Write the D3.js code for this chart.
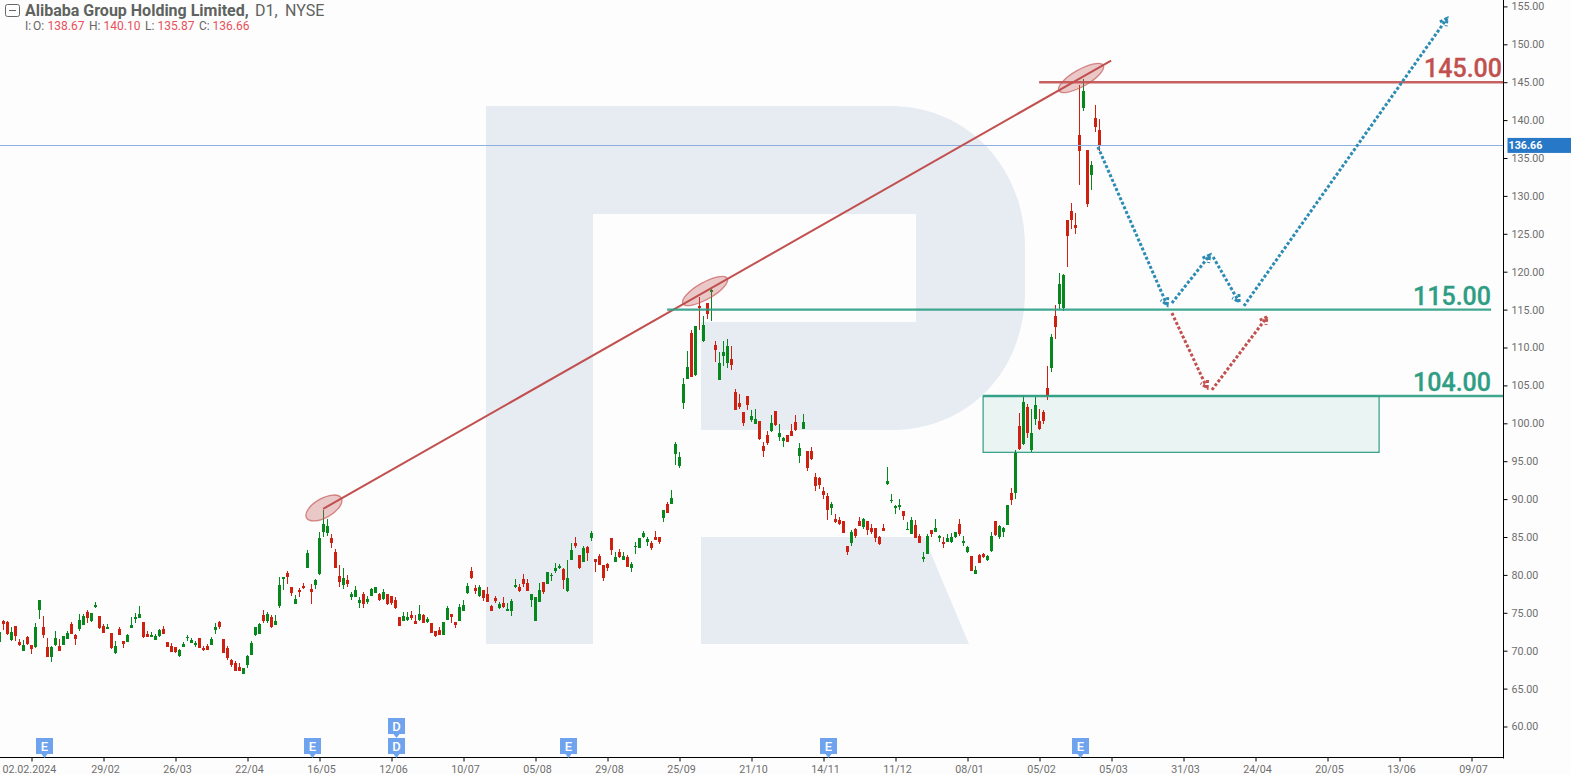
<!DOCTYPE html>
<html><head><meta charset="utf-8">
<script src="https://cdn.jsdelivr.net/npm/d3@7"></script>
<style>
html,body{margin:0;padding:0;background:#fdfdfd;overflow:hidden}
svg{display:block;font-family:Roboto,sans-serif}
</style></head><body><div id="chart"></div>
<script>
const firstBar = -1;
const opens = [71.15,
73.92,73.79,71.42,73.26,71.15,69.97,71.81,70.76,70.49,75.37,
73.13,70.49,69.17,70.76,70.62,70.76,71.55,73.53,72.08,72.87,
73.40,75.11,73.92,75.77,74.58,73.26,72.87,72.34,69.70,72.87,
71.28,71.15,73.00,74.19,74.32,73.79,72.21,71.81,71.42,71.94,
72.87,71.15,70.62,70.49,69.31,70.49,71.68,71.02,70.76,71.68,
70.36,70.62,70.76,72.74,73.79,71.55,70.36,68.78,68.38,67.85,
66.93,68.12,69.44,72.08,72.21,74.71,73.92,74.45,73.40,75.90,
79.46,80.26,78.41,76.17,78.01,78.54,80.91,78.14,78.67,80.12,
85.66,85.53,84.87,83.03,79.86,78.67,79.33,77.09,77.09,76.30,
77.48,76.43,77.22,77.62,77.48,76.83,77.48,77.22,76.69,74.45,
73.92,74.05,74.71,73.92,74.05,74.71,73.79,73.66,72.60,72.74,
72.08,74.05,74.85,73.79,73.92,75.24,77.62,80.52,78.28,77.22,
78.01,77.48,75.90,76.96,75.64,76.30,75.24,75.24,78.41,78.41,
79.46,78.94,76.69,73.92,76.43,79.07,78.80,79.90,80.52,80.91,
80.78,77.88,81.97,84.21,82.63,81.71,83.68,84.87,82.10,82.50,
81.31,81.44,84.87,81.71,83.03,81.97,82.37,80.91,83.68,83.55,
85.00,84.34,84.21,85.00,85.00,87.51,89.36,89.36,95.95,94.37,
102.68,105.85,111.92,106.38,115.48,110.86,115.87,117.33,110.33,105.72,
108.88,107.96,108.49,104.13,102.68,101.49,103.61,100.44,99.91,100.31,
97.01,98.46,98.99,101.63,98.20,97.67,98.46,98.99,100.18,95.69,
99.25,96.35,96.35,92.92,92.79,91.07,90.41,88.83,87.38,87.25,
87.11,83.82,84.21,86.06,87.11,86.32,87.11,86.19,86.19,85.00,
86.19,91.99,89.75,88.83,88.96,88.43,85.93,85.40,86.59,85.14,
82.10,82.76,85.93,85.66,84.87,84.34,84.34,84.34,85.00,86.72,
84.21,83.03,82.50,80.12,82.63,82.76,81.97,83.16,87.11,85.00,
85.66,86.59,90.81,90.81,99.65,97.27,102.15,96.48,100.57,100.31,
101.49,104.66,107.30,114.16,115.74,115.22,126.83,128.01,126.17,138.04,
141.60,136.06,132.76,140.28,138.67];
const highs = [72.47,
74.05,73.92,73.13,73.26,71.55,71.42,71.94,70.76,73.66,76.69,
74.58,71.68,70.62,72.60,71.55,71.94,72.60,73.79,72.21,74.85,
74.85,75.37,74.98,76.43,74.58,73.53,73.53,72.34,71.28,73.13,
71.28,72.21,74.45,74.98,75.90,73.79,72.60,72.47,72.21,72.87,
73.26,71.15,71.02,70.49,70.23,71.15,72.08,71.68,71.28,71.68,
70.62,70.89,71.81,73.66,73.92,71.55,70.62,68.91,68.65,68.38,
67.72,69.44,71.28,73.13,73.66,75.37,75.11,74.71,74.71,79.73,
79.73,80.52,78.41,77.35,78.28,78.94,83.29,78.80,79.46,85.66,
88.57,87.38,85.40,83.42,81.31,80.91,79.99,77.75,78.54,77.09,
77.75,77.22,78.28,78.41,77.62,78.14,77.48,77.22,77.09,74.45,
75.11,75.11,75.24,74.71,76.03,74.85,74.45,73.66,72.60,73.13,
73.79,75.90,74.85,73.79,76.17,76.69,78.94,81.05,78.67,78.67,
78.01,78.41,76.03,77.22,76.43,77.09,76.30,76.83,79.46,78.80,
80.12,79.46,77.48,77.09,78.94,79.07,80.39,80.26,81.57,81.44,
80.91,81.97,84.21,85.00,82.63,83.82,83.82,85.80,82.10,82.76,
81.31,81.57,84.87,83.03,83.42,83.03,82.63,81.71,84.34,84.87,
85.80,85.00,84.48,85.80,85.00,88.57,89.62,91.20,97.54,96.22,
105.98,109.54,112.31,112.84,116.67,114.16,115.87,117.85,110.86,109.41,
110.86,111.12,110.20,104.53,103.87,101.49,103.61,101.76,101.89,100.31,
97.54,98.99,101.10,101.63,99.91,98.20,98.46,99.91,101.10,97.40,
101.23,96.35,96.88,93.45,92.92,91.60,90.81,89.62,88.04,87.64,
87.11,83.82,85.93,86.19,87.64,87.51,87.11,86.72,86.19,85.14,
86.72,94.24,90.68,89.23,90.02,88.43,86.98,87.64,87.25,85.40,
83.03,85.40,85.93,87.38,85.27,85.00,85.40,85.53,85.66,87.38,
85.14,83.82,82.50,81.18,82.76,82.89,82.63,85.66,87.11,86.59,
86.32,89.23,91.47,96.48,101.36,103.74,102.55,101.89,103.47,101.89,
101.76,107.56,111.79,115.61,119.83,119.70,126.83,129.07,127.75,144.64,
145.43,136.06,134.61,142.00,140.10];
const lows = [71.15,
72.74,72.08,71.28,71.28,70.62,69.97,70.76,69.57,70.36,74.19,
71.68,69.17,68.51,70.62,69.97,70.76,71.55,72.21,70.76,72.60,
73.40,73.66,73.79,75.64,72.87,72.34,72.87,70.23,69.57,72.08,
70.36,71.15,73.00,73.66,74.32,71.68,71.81,71.81,71.42,71.81,
72.21,70.49,69.83,69.70,69.17,70.49,71.28,71.02,70.49,70.36,
69.97,70.10,70.76,72.21,72.87,69.70,68.78,67.85,67.33,67.33,
66.93,67.72,69.44,71.94,72.21,73.66,73.66,73.00,73.40,75.64,
78.01,78.80,77.22,76.17,77.09,78.14,80.91,76.17,78.14,79.99,
85.00,85.14,83.55,80.91,78.41,78.14,78.41,76.69,77.09,75.64,
75.64,76.17,77.22,77.62,76.56,76.69,76.03,76.03,75.51,73.26,
73.92,73.92,74.05,73.53,73.92,73.66,73.66,72.34,71.81,72.08,
72.08,74.05,73.66,73.00,73.92,75.24,77.48,79.46,77.48,77.09,
76.56,76.43,75.24,76.30,75.51,75.64,75.24,74.58,78.28,77.75,
78.41,77.88,75.77,73.92,76.43,77.48,78.80,79.20,80.26,80.78,
78.14,77.75,81.97,83.55,80.78,81.71,81.84,84.48,80.39,81.31,
79.20,80.52,82.63,81.71,82.23,81.97,81.05,80.39,82.76,83.55,
84.87,83.82,83.29,84.61,84.08,86.98,88.17,89.36,94.50,94.11,
101.89,105.85,106.11,106.24,112.31,110.73,113.76,113.50,108.09,105.72,
107.56,107.30,107.04,101.76,101.89,99.65,101.76,100.18,99.91,97.80,
95.56,97.14,98.86,99.65,97.67,96.88,97.54,98.33,98.99,94.77,
99.25,93.71,95.16,91.07,91.34,90.02,87.25,87.91,86.85,86.59,
85.53,82.63,83.82,84.87,86.46,86.06,85.27,85.40,84.34,83.95,
85.80,91.86,89.49,88.04,88.57,87.25,85.93,85.40,84.87,84.21,
81.71,82.76,85.00,85.66,84.34,83.55,84.34,84.21,84.87,85.14,
83.82,82.89,80.52,80.12,81.57,82.23,81.84,83.03,85.14,84.74,
85.00,86.59,89.23,90.02,96.48,97.14,98.07,96.22,99.78,99.12,
99.91,103.08,106.77,111.12,115.08,114.82,120.62,125.64,124.98,131.44,
141.21,128.54,130.78,138.43,135.87];
const closes = [72.47,
73.53,72.21,72.47,71.94,70.76,70.76,70.89,70.23,73.13,76.69,
72.08,69.17,70.49,71.68,69.97,71.94,72.34,72.21,71.55,74.05,
74.58,74.32,74.98,76.03,73.00,72.34,73.13,70.36,70.62,72.08,
70.89,72.08,73.40,74.45,74.85,71.81,71.81,72.08,71.94,72.74,
72.21,70.49,69.83,69.83,70.10,70.89,71.81,71.42,71.02,70.36,
70.10,70.10,71.55,73.13,73.13,69.70,69.04,68.12,67.33,67.33,
67.72,69.31,71.02,73.13,73.53,73.92,74.85,73.13,73.92,78.67,
79.73,79.73,77.62,76.83,77.75,78.28,82.89,77.75,79.33,84.87,
86.72,86.46,84.21,80.91,79.07,79.60,78.80,77.48,78.01,76.69,
76.17,76.83,78.14,78.41,76.69,77.75,76.17,76.30,75.64,73.26,
74.58,74.45,74.32,73.53,74.85,73.66,74.19,72.34,71.94,72.08,
73.79,75.64,74.45,73.40,75.77,76.03,78.54,79.60,77.88,78.41,
76.96,76.43,75.24,76.56,76.17,75.77,75.51,76.56,78.67,77.88,
78.80,77.88,77.48,77.09,78.01,77.75,80.39,79.99,80.91,81.18,
79.33,79.60,83.29,83.82,80.91,83.55,82.89,85.53,81.71,81.31,
79.60,80.91,83.29,82.37,82.37,82.50,81.05,81.44,83.82,84.87,
85.53,84.74,83.55,84.61,84.34,88.57,88.17,90.15,97.27,95.56,
105.19,107.43,106.11,112.84,115.22,112.97,114.42,117.59,109.67,107.96,
109.41,110.20,107.69,101.76,102.15,100.04,102.42,100.97,100.57,97.93,
96.35,97.40,100.04,99.78,98.72,98.07,97.54,98.33,99.12,96.75,
100.18,94.11,95.29,91.73,91.86,90.54,88.57,89.36,86.98,86.72,
85.53,83.03,85.66,85.14,86.46,87.38,85.93,85.66,84.87,84.08,
85.80,92.39,89.88,89.09,89.23,87.77,86.06,87.25,84.87,84.21,
82.37,85.14,85.40,86.19,85.14,84.08,84.87,85.00,85.66,85.40,
84.48,83.68,80.52,80.65,81.57,82.37,82.50,85.14,85.27,86.46,
86.19,89.23,89.88,96.09,96.61,102.81,98.72,98.72,102.42,99.25,
100.31,103.61,111.39,112.71,118.38,119.57,124.71,126.83,125.77,135.93,
143.84,128.94,134.08,139.09,136.66];

const dateLabels = ["02.02.2024","29/02","26/03","22/04","16/05","12/06","10/07","05/08","29/08","25/09","21/10","14/11","11/12","08/01","05/02","05/03","31/03","24/04","20/05","13/06","09/07"];
const dateBars = [7,25,43,61,79,97,115,133,151,169,187,205,223,241,259,277,295,313,331,349,367];
const priceTicks = [60,65,70,75,80,85,90,95,100,105,110,115,120,125,130,135,140,145,150,155];
const lastPrice = 136.66;
const earningsBars = [10,77,141,206,269];
const dividendBars = [98];
const trendLine = [[79.9,88.70],[276.9,147.84]];
const touchPoints = [[80.1,88.83,20,9.6],[175.4,117.46,25.5,8.4],[269.4,145.56,25.5,8.4]];
const resistance = {price:145, from:258.9, to:375, label:"145.00"};
const support1 = {price:115, from:165.9, to:371.9, label:"115.00"};
const support2 = {price:103.6, from:244.9, to:375, label:"104.00"};
const zone = {from:244.9, to:343.9, top:103.6, bottom:96.17};
const blueRoute = [[[273.6,136.46],[290.9,115.61]],[[292.1,115.87],[301.6,122.2]],[[302.4,121.94],[308.9,116.0]],[[310.1,115.48],[360.9,153.43]]];
const redRoute = [[[292.1,114.55],[300.9,104.66]],[[302.1,104.40],[315.9,114.03]]];

const W=1571,H=775, axisX=1503.5, axisY=757.5;
const x = d3.scaleLinear().domain([-1,375]).range([-0.5,axisX]);
const y = d3.scaleLinear().domain([100,155]).range([423.3,6.4]);
const svg = d3.select("#chart").append("svg").attr("width",W).attr("height",H);
svg.append("rect").attr("width",W).attr("height",H).attr("fill","#fdfdfd");

// watermark
svg.append("path").attr("fill","#e7ecf3").attr("fill-rule","evenodd")
 .attr("d","M486,106H890C970,106 1025,170 1025,246V291C1025,370 970,430 890,430H701V322H916V214H593V644H486Z");
svg.append("path").attr("fill","#e7ecf3").attr("d","M701,537H924L969,644H701Z");

// zone
svg.append("rect").attr("x",x(zone.from)).attr("y",y(zone.top))
 .attr("width",x(zone.to)-x(zone.from)).attr("height",y(zone.bottom)-y(zone.top))
 .attr("fill","rgba(46,157,132,0.09)").attr("stroke","#2e9d84").attr("stroke-width",1.2);

// candles
const bars = closes.map((c,k)=>({i:k+firstBar,o:opens[k],h:highs[k],l:lows[k],c}));
const up="#07881f", down="#cf2112";
const g = svg.append("g");
g.selectAll(".w").data(bars).join("rect")
 .attr("x",d=>Math.floor(x(d.i))).attr("width",1)
 .attr("y",d=>Math.round(y(d.h))).attr("height",d=>Math.max(1,Math.round(y(d.l))-Math.round(y(d.h))))
 .attr("fill",d=>d.c>=d.o?up:down);
g.selectAll(".b").data(bars).join("rect")
 .attr("x",d=>Math.floor(x(d.i))-1).attr("width",3)
 .attr("y",d=>Math.round(y(Math.max(d.o,d.c))))
 .attr("height",d=>Math.max(1,Math.round(y(Math.min(d.o,d.c)))-Math.round(y(Math.max(d.o,d.c)))))
 .attr("fill",d=>d.c>=d.o?up:down);

// last price line
svg.append("line").attr("x1",0).attr("x2",axisX).attr("y1",Math.round(y(lastPrice))+.5).attr("y2",Math.round(y(lastPrice))+.5)
 .attr("stroke","#8fb0de").attr("stroke-width",1);

// trend + ellipses
const red="#c1504f", grn="#2e9d84", blue="#2b8bb3";
const ln = d3.line().x(d=>x(d[0])).y(d=>y(d[1]));
svg.append("path").attr("d",ln(trendLine)).attr("fill","none").attr("stroke",red).attr("stroke-width",2);
const ang = Math.atan2(y(trendLine[1][1])-y(trendLine[0][1]),x(trendLine[1][0])-x(trendLine[0][0]))*180/Math.PI;
svg.selectAll(".touch").data(touchPoints).join("ellipse")
 .attr("rx",d=>d[2]).attr("ry",d=>d[3])
 .attr("transform",d=>`translate(${x(d[0])},${y(d[1])}) rotate(${ang})`)
 .attr("fill","rgba(193,80,79,0.3)").attr("stroke","rgba(193,80,79,0.65)").attr("stroke-width",1.3);

// levels
[[resistance,red],[support1,grn],[support2,grn]].forEach(([l,c])=>{
  svg.append("line").attr("x1",x(l.from)).attr("x2",x(l.to)).attr("y1",y(l.price)).attr("y2",y(l.price))
   .attr("stroke",c).attr("stroke-width",2.4).attr("stroke-opacity",.9);
});
const lab = (l,c,xr,dy)=>svg.append("text").attr("x",xr).attr("y",y(l.price)+dy).attr("text-anchor","end")
 .attr("fill",c).attr("font-size",25).attr("font-weight",500).attr("stroke",c).attr("stroke-width",.3).text(l.label);
lab(resistance,red,1502,-5);
lab(support1,grn,1491,-5);
lab(support2,grn,1491,-5);

// routes
function route(segs,col){
  segs.forEach(s=>{
    const a=[x(s[0][0]),y(s[0][1])], b=[x(s[1][0]),y(s[1][1])];
    const t=Math.atan2(b[1]-a[1],b[0]-a[0]);
    const wing=(d)=>[b[0]-8*Math.cos(t+d),b[1]-8*Math.sin(t+d)];
    const attrs=p=>p.attr("fill","none").attr("stroke",col).attr("stroke-width",3).attr("stroke-dasharray","3 2");
    attrs(svg.append("path").attr("d",d3.line()([a,b])));
    attrs(svg.append("path").attr("d",d3.line()([wing(.5),b,wing(-.5)])));
  });
}
route(blueRoute,blue);
route(redRoute,red);

// axes
const yAxis = d3.axisRight(y).tickValues(priceTicks).tickFormat(d3.format(".2f")).tickSize(4).tickPadding(4);
const ya = svg.append("g").attr("transform",`translate(${axisX},0)`).call(yAxis);
ya.select(".domain").remove();
ya.append("line").attr("x1",0).attr("x2",0).attr("y1",0).attr("y2",axisY+1).attr("stroke","#000");
const xAxis = d3.axisBottom(x).tickValues(dateBars).tickFormat((d,i)=>dateLabels[i]).tickSize(4).tickPadding(4);
const xa = svg.append("g").attr("transform",`translate(0,${axisY})`).call(xAxis);
xa.select(".domain").remove();
xa.append("line").attr("x1",0).attr("x2",axisX).attr("y1",0).attr("y2",0).attr("stroke","#000");
[ya,xa].forEach(a=>{a.selectAll("text").attr("font-family","Roboto").attr("font-size",10.7).attr("fill","#6e6e6e");
 a.selectAll(".tick line").attr("stroke","#000");});
xa.selectAll(".tick text").attr("dx",1.5);
xa.selectAll(".tick text").filter((d,i)=>i===0).attr("text-anchor","start").attr("x",-29.5).attr("dx",0);

// last price tag
svg.append("rect").attr("x",axisX+4).attr("y",y(lastPrice)-7.5).attr("width",W-axisX-4).attr("height",15).attr("fill","#2878c8");
svg.append("text").attr("x",axisX+5).attr("y",y(lastPrice)+3.8).attr("fill","#fff").attr("font-size",10.7).attr("font-weight",700).text(lastPrice.toFixed(2));

// event markers
function marker(i,top,letter){
  const cx=x(i)+1;
  svg.append("path").attr("fill","#6fa3ee").attr("d",`M${cx-8.5},${top}h17v16h-5.5l-3,4l-3,-4h-5.5z`);
  svg.append("text").attr("x",cx).attr("y",top+12.5).attr("text-anchor","middle").attr("fill","#fff").attr("font-size",13).attr("font-weight",500).text(letter);
}
earningsBars.forEach(i=>marker(i,738,"E"));
dividendBars.forEach(i=>{marker(i,738,"D");marker(i,718,"D");});

// header
svg.append("rect").attr("x",5.5).attr("y",4.5).attr("width",14).attr("height",12).attr("rx",2).attr("fill","none").attr("stroke","#666");
svg.append("line").attr("x1",9).attr("x2",16).attr("y1",10.5).attr("y2",10.5).attr("stroke","#666");
const hdr=(tx,ty,s,fs,fw,c)=>svg.append("text").attr("x",tx).attr("y",ty).attr("font-size",fs).attr("font-weight",fw).attr("fill",c).text(s);
hdr(25,16,"Alibaba Group Holding Limited,",16,700,"#5f6360");
hdr(255,16,"D1,",16,400,"#5f6360");
hdr(285,16,"NYSE",16,400,"#5f6360");
[["I:",25],["O:",33],["H:",89],["L:",145],["C:",199]].forEach(d=>hdr(d[1],30,d[0],12,400,"#666"));
[[opens,47.5],[highs,103.5],[lows,157.5],[closes,212.5]].forEach(d=>hdr(d[1],30,d[0][d[0].length-1].toFixed(2),12,400,"#e8505b"));
</script></body></html>
